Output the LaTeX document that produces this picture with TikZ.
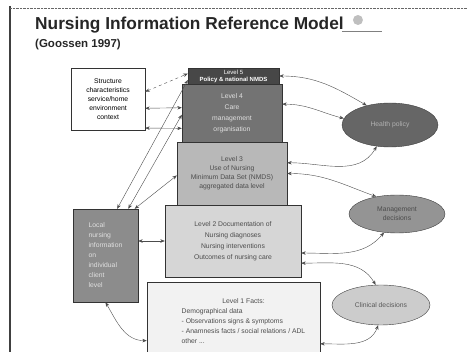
\documentclass[tikz,border=0pt]{standalone}
\usepackage{fontspec}
\setmainfont{Liberation Sans}
\usetikzlibrary{shapes.geometric,arrows.meta}

\begin{document}
\begin{tikzpicture}[x=1pt,y=1pt,font=\fontsize{6.8}{9}\selectfont,
    >={Stealth[length=4.5pt,width=3.5pt]}]
\useasboundingbox (0,0) rectangle (467,-352);
\clip (0,0) rectangle (467,-352);
% slide frame
\draw[line width=1.6pt,black!75] (10,-6) -- (10,-352);
\draw[densely dotted,black!60] (10,-8) -- (467,-8);
% heading
\node[anchor=west,font=\fontsize{17.3}{20}\selectfont\bfseries,black!85,inner sep=0pt] (T) at (35,-25) {Nursing Information Reference Model};
\node[anchor=west,font=\fontsize{11.5}{13}\selectfont\bfseries,black!85,inner sep=0pt] (G) at (35,-45) {(Goossen 1997)};
\fill[black!25] (T.east) ++(14,5) circle (5pt);
\draw[black!50] (T.east) ++(-2,-6) -- ++(40,0);
\begin{scope}[every node/.style={rectangle,draw=black!80,thin,align=center,inner sep=1pt}]
    \node[fill=white,minimum width=74pt,minimum height=62pt] (S) at (108,-99)
        {Structure\\characteristics\\service/home\\environment\\context};
    \node[fill=black!55,text=black!12,minimum width=100pt,minimum height=58pt,
        font=\fontsize{6.8}{11}\selectfont] (L4) at (232,-113)
        {Level 4\\Care\\management\\organisation};
    \node[fill=black!72,text=white,minimum width=91pt,minimum height=16pt,
        font=\fontsize{6}{7}\selectfont] (L5) at (233.5,-76)
        {Level 5\\\bfseries Policy \& national NMDS};
    \node[fill=black!28,text=black!70,minimum width=110pt,minimum height=63pt] (L3) at (232,-173.5)
        {Level 3\\Use of Nursing\\Minimum Data Set (NMDS)\\aggregated data level};
    \node[fill=black!16,text=black!70,minimum width=136pt,minimum height=72pt,
        font=\fontsize{6.8}{11}\selectfont] (L2) at (233,-241)
        {Level 2 Documentation of\\Nursing diagnoses\\Nursing interventions\\Outcomes of nursing care};
    \node[fill=black!5,text=black!70,anchor=north,minimum width=173pt,minimum height=80pt] (L1) at (233.5,-282)
        {\hspace*{20pt}\begin{tabular}{@{}l@{}}
        \multicolumn{1}{@{}c@{}}{Level 1 Facts:}\\[1pt]
        Demographical data\\[1pt]
        - Observations signs \& symptoms\\[1pt]
        - Anamnesis facts / social relations / ADL\\[1pt]
        other ...\end{tabular}};
    \node[fill=black!45,text=black!12,align=left,minimum width=65pt,minimum height=93pt,
        font=\fontsize{6.8}{10}\selectfont] (P) at (105.5,-255.5)
        {Local\\nursing\\information\\on\\individual\\client\\level};
\end{scope}
\begin{scope}[every node/.style={ellipse,draw=black!75,thin,align=center,inner sep=0pt}]
    \node[fill=black!60,text=black!30,minimum width=96pt,minimum height=44pt] (H) at (390,-125) {Health policy};
    \node[fill=black!42,text=black!70,minimum width=96pt,minimum height=38pt] (M) at (397,-214) {Management\\decisions};
    \node[fill=black!20,text=black!65,minimum width=98pt,minimum height=40pt] (C) at (381,-305) {Clinical decisions};
\end{scope}
\begin{scope}[black!70,thin]
    % left side
    \draw[<->,dashed] (S.11) -- (L5.177);
    \draw[<->] (S.-14) -- (L4.174);
    \draw[<->] (S.-38) -- (L4.197);
    \draw[<->] (P.76) -- (L5.185);
    \draw[<->] (P.64) -- (L4.182);
    \draw[<->] (P.58) -- (L3.182);
    \draw[<->] (P.east |- L2.west) -- (L2.west);
    \draw[<->] (P.south) to[out=-60,in=180] (L1.-168);
    % right side
    \draw[<->] (L5.east) to[out=0,in=150] (H.140);
    \draw[<->] (L4.10) to[out=0,in=165] (H.172);
    \draw[<->] (L3.11) to[out=0,in=240] (H.238);
    \draw[<->] (L3.east) to[out=0,in=160] (M.140);
    \draw[<->] (L2.-10) to[out=0,in=230] (M.235);
    \draw[<->] (L2.-18) to[out=0,in=120] (C.105);
    \draw[<->] (L1.-14) to[out=0,in=250] (C.262);
\end{scope}
\end{tikzpicture}
\end{document}
